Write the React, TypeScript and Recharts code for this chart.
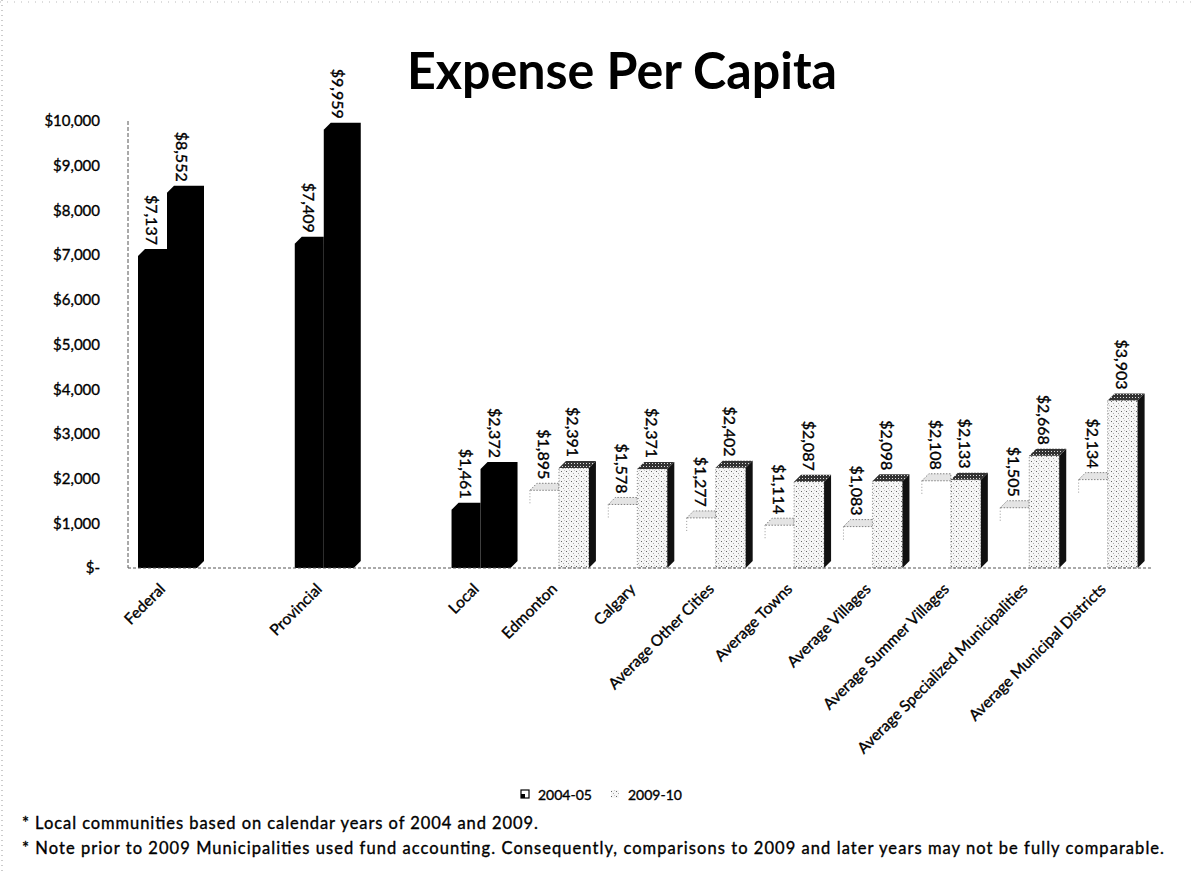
import React from 'react';
import { BarChart, Bar, XAxis, YAxis, LabelList } from 'recharts';

// blank entries keep the wide gaps between Federal, Provincial and Local
const categories = [
  'Federal',
  '',
  'Provincial',
  '',
  'Local',
  'Edmonton',
  'Calgary',
  'Average Other Cities',
  'Average Towns',
  'Average Villages',
  'Average Summer Villages',
  'Average Specialized Municipalities',
  'Average Municipal Districts',
];
const expense2004 = [7137, null, 7409, null, 1461, 1895, 1578, 1277, 1114, 1083, 2108, 1505, 2134];
const expense2009 = [8552, null, 9959, null, 2372, 2391, 2371, 2402, 2087, 2098, 2133, 2668, 3903];
const solidCategories = ['Federal', 'Provincial', 'Local'];
const yTicks = [0, 1000, 2000, 3000, 4000, 5000, 6000, 7000, 8000, 9000, 10000];
const seriesNames = ['2004-05', '2009-10'];

const data = categories.map((name, i) => ({
  name,
  e2004: expense2004[i],
  e2009: expense2009[i],
}));

const FONT = 'Lato, "Open Sans", sans-serif';
const D = 7; // fake 3D depth
const SHIFT = 4; // first bar of the pair is a bit narrower
const INK = { fill: '#000', stroke: '#000', strokeWidth: 0.35 };

const money = (v: number) => (v === 0 ? '$-' : '$' + v.toLocaleString('en-US'));

const Shape2004 = (p: any) => {
  const { x, y, width, height, payload } = p;
  if (height == null || height <= 0 || payload == null) return <g />;
  const fr = x + width - SHIFT;
  if (solidCategories.includes(payload.name)) {
    return (
      <path
        d={`M${x},${y + D} L${x + D},${y} L${fr},${y} L${fr},${y + height} L${x},${y + height} Z`}
        fill="#000"
      />
    );
  }
  return (
    <g>
      <path
        d={`M${x},${y + D} L${x + D},${y} L${fr},${y} L${fr},${y + D} Z`}
        fill="#e4e4e4"
        stroke="#666"
        strokeWidth={0.8}
        strokeDasharray="1.5 1.5"
      />
      <line x1={x} y1={y + D} x2={x} y2={y + D + 14} stroke="#999" strokeDasharray="1 2" />
    </g>
  );
};

const Shape2009 = (p: any) => {
  const { x, y, width, height, payload } = p;
  if (height == null || height <= 0 || payload == null) return <g />;
  const x0 = x - SHIFT;
  const fr = x + width - D;
  const xr = x + width;
  if (solidCategories.includes(payload.name)) {
    return (
      <path
        d={`M${x0},${y + D} L${x0 + D},${y} L${xr},${y} L${xr},${y + height - D} L${fr},${y + height} L${x0},${y + height} Z`}
        fill="#000"
      />
    );
  }
  return (
    <g>
      <rect
        x={x0}
        y={y + D}
        width={fr - x0}
        height={height - D}
        fill="url(#stip)"
        stroke="#666"
        strokeWidth={0.8}
        strokeDasharray="1 2"
      />
      <path d={`M${x0},${y + D} L${x0 + D},${y} L${xr},${y} L${fr},${y + D} Z`} fill="url(#stipDark)" />
      <path d={`M${fr},${y + D} L${xr},${y} L${xr},${y + height - D} L${fr},${y + height} Z`} fill="#111" />
    </g>
  );
};

const valueLabel = (first: boolean) => (p: any) => {
  const { x, y, width, value } = p;
  if (value == null) return null;
  const cx = first ? x + (width - SHIFT) / 2 : x + (width - D - SHIFT) / 2;
  return (
    <text
      x={0}
      y={0}
      transform={`translate(${cx},${y - 4}) rotate(90)`}
      textAnchor="end"
      dominantBaseline="central"
      fontFamily={FONT}
      fontSize={16}
      {...INK}
    >
      {money(value)}
    </text>
  );
};

const CategoryTick = (p: any) => {
  const { x, y, payload } = p;
  if (!payload || !payload.value) return <g />;
  return (
    <text
      x={0}
      y={0}
      transform={`translate(${x - 5},${y + 14}) rotate(-45)`}
      textAnchor="end"
      fontFamily={FONT}
      fontSize={15.5}
      {...INK}
    >
      {payload.value}
    </text>
  );
};

export default function App() {
  return (
    <div
      style={{
        position: 'absolute',
        left: 0,
        top: 0,
        width: 1193,
        height: 871,
        background: '#fff',
        overflow: 'hidden',
      }}
    >
      <svg width={1193} height={871} style={{ position: 'absolute', left: 0, top: 0 }}>
        <defs>
          <pattern id="stip" width="5" height="5" patternUnits="userSpaceOnUse">
            <rect width="5" height="5" fill="#f6f6f6" />
            <rect x="1" y="1" width="1" height="1" fill="#666" />
            <rect x="3" y="3" width="1" height="1" fill="#aaa" />
            <rect x="4" y="0" width="1" height="1" fill="#ccc" />
          </pattern>
          <pattern id="stipDark" width="3" height="3" patternUnits="userSpaceOnUse">
            <rect width="3" height="3" fill="#333" />
            <rect x="1" y="1" width="1" height="1" fill="#ddd" />
          </pattern>
        </defs>
        <line x1={2} y1={0} x2={2} y2={871} stroke="#999" strokeDasharray="1 4" />
        <line x1={0} y1={2} x2={1193} y2={2} stroke="#bbb" strokeDasharray="1 6" />
        <text
          x={622}
          y={89}
          textAnchor="middle"
          fontFamily={FONT}
          fontWeight="bold"
          fontSize={52}
          textLength={430}
          lengthAdjust="spacingAndGlyphs"
          fill="#000"
        >
          Expense Per Capita
        </text>
        <g fontFamily={FONT} fontSize={14}>
          <rect x={521} y={790} width={8} height={8} fill="#fff" stroke="#000" strokeWidth={1.2} />
          <rect x={521} y={794} width={4} height={4} fill="#000" />
          <text x={538} y={800} {...INK}>{seriesNames[0]}</text>
          <rect x={611} y={790} width={8} height={8} fill="url(#stip)" />
          <text x={628} y={800} {...INK}>{seriesNames[1]}</text>
        </g>
        <g fontFamily={FONT} fontSize={16.5}>
          <text x={22} y={829} textLength={516} {...INK}>
            * Local communities based on calendar years of 2004  and 2009.
          </text>
          <text x={22} y={854} textLength={1142} {...INK}>
            * Note prior to 2009  Municipalities used fund accounting.  Consequently, comparisons to 2009 and later years may not be fully comparable.
          </text>
        </g>
      </svg>
      <div style={{ position: 'absolute', left: 0, top: 0 }}>
        <BarChart
          width={1193}
          height={871}
          data={data}
          margin={{ top: 121, right: 42, bottom: 103, left: 48 }}
          barGap={0}
          barCategoryGap={6}
        >
          <XAxis
            dataKey="name"
            interval={0}
            height={200}
            tickLine={false}
            axisLine={{ stroke: '#555', strokeDasharray: '3 2' }}
            padding={{ left: 4, right: 0 }}
            tick={<CategoryTick />}
          />
          <YAxis
            width={80}
            domain={[0, 10000]}
            ticks={yTicks}
            tickFormatter={money}
            tickLine={false}
            tickMargin={22}
            axisLine={{ stroke: '#555', strokeDasharray: '4 2' }}
            tick={{ fontFamily: FONT, fontSize: 15, ...INK }}
          />
          <Bar dataKey="e2004" name={seriesNames[0]} shape={<Shape2004 />} isAnimationActive={false}>
            <LabelList dataKey="e2004" content={valueLabel(true)} />
          </Bar>
          <Bar dataKey="e2009" name={seriesNames[1]} shape={<Shape2009 />} isAnimationActive={false}>
            <LabelList dataKey="e2009" content={valueLabel(false)} />
          </Bar>
        </BarChart>
      </div>
    </div>
  );
}
